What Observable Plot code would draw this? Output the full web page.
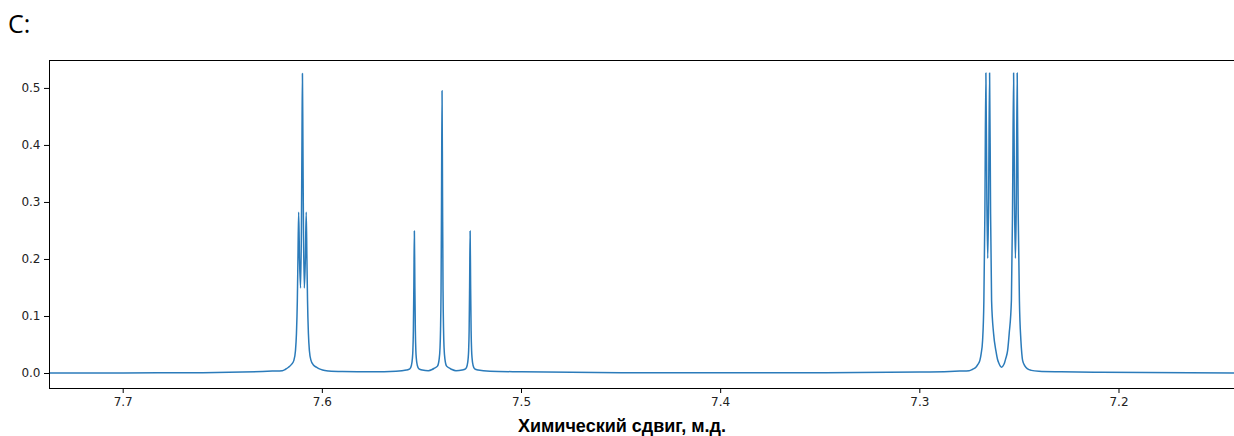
<!DOCTYPE html>
<html>
<head>
<meta charset="utf-8">
<script src="https://cdn.jsdelivr.net/npm/d3@7"></script>
<script src="https://cdn.jsdelivr.net/npm/@observablehq/plot@0.6"></script>
<style>
  html, body { margin: 0; padding: 0; background: #fff; overflow: hidden; }
  #title { height: 44px; box-sizing: border-box; padding: 6px 0 0 8px; font-family: "Open Sans", sans-serif; font-size: 25px; color: #000; line-height: 34px; }
  #chart svg { display: block; }
  #xlabel { width: 1234px; box-sizing: border-box; padding-left: 10px; text-align: center; font-family: "Liberation Sans", Arial, sans-serif; font-weight: bold; font-size: 18px; color: #000; line-height: 20px; }
</style>
</head>
<body>
<div id="title">C:</div>
<div id="chart"></div>
<div id="xlabel">Химический сдвиг, м.д.</div>
<script>
// Chemical shift (ppm) and intensity
const shiftPpm = [
  7.737, 7.700, 7.660, 7.6402, 7.6301, 7.6251, 7.6201, 7.6185, 7.6170, 7.6155,
  7.6143, 7.6135, 7.6130,
  7.61256, 7.61226, 7.6119, 7.61146, 7.61095, 7.6105, 7.61025, 7.6100, 7.60975, 7.6095,
  7.60905, 7.60854, 7.6081, 7.60774, 7.60744, 7.6070, 7.6065, 7.6057, 7.6045, 7.6030,
  7.6015, 7.5999, 7.5969, 7.5899, 7.575, 7.563,
  7.5578, 7.5561, 7.5553, 7.5548, 7.55455, 7.5543, 7.55405, 7.5538, 7.55355, 7.5533,
  7.55305, 7.5528, 7.5523, 7.5515, 7.5498, 7.5468,
  7.5449, 7.5439, 7.5422, 7.5414, 7.5409, 7.54065, 7.5404, 7.54015, 7.5399, 7.53965,
  7.5394, 7.53915, 7.5389, 7.5384, 7.5376, 7.5359, 7.5349, 7.5329,
  7.5298, 7.5281, 7.5273, 7.5268, 7.52655, 7.5263, 7.52605, 7.5258, 7.52555, 7.5253,
  7.52505, 7.5248, 7.5243, 7.5235, 7.5218, 7.5158, 7.500, 7.450, 7.400, 7.350,
  7.300, 7.285, 7.2800,
  7.27523, 7.2735, 7.27186, 7.27085, 7.26985, 7.2692, 7.26849, 7.26784, 7.26734, 7.26683,
  7.26633, 7.2659, 7.26548, 7.26497, 7.26447, 7.26397, 7.26296, 7.26181, 7.2610, 7.2603,
  7.2596, 7.25894, 7.2583, 7.25754, 7.2568, 7.25593, 7.25513,
  7.25402, 7.25347, 7.25291, 7.25246, 7.2520, 7.25156, 7.25111, 7.25060, 7.2500, 7.24925,
  7.2488, 7.2484, 7.2472, 7.24588, 7.2440, 7.2402, 7.2291, 7.2090, 7.142
];
const intensity = [
  0.0008, 0.0010, 0.0015, 0.0025, 0.0035, 0.0042, 0.005, 0.0075, 0.011, 0.016,
  0.023, 0.040, 0.070,
  0.128, 0.20, 0.283, 0.20, 0.150, 0.26, 0.40, 0.526, 0.40, 0.26,
  0.150, 0.20, 0.283, 0.20, 0.128, 0.070, 0.040, 0.023, 0.015, 0.011,
  0.008, 0.006, 0.0045, 0.0035, 0.003, 0.004,
  0.006, 0.008, 0.014, 0.026, 0.040, 0.075, 0.155, 0.250, 0.155, 0.075,
  0.040, 0.026, 0.014, 0.008, 0.006, 0.005,
  0.007, 0.009, 0.013, 0.024, 0.046, 0.078, 0.145, 0.31, 0.496, 0.31,
  0.145, 0.078, 0.046, 0.024, 0.013, 0.009, 0.007, 0.005,
  0.006, 0.008, 0.014, 0.026, 0.040, 0.075, 0.155, 0.250, 0.155, 0.075,
  0.040, 0.026, 0.014, 0.008, 0.006, 0.004, 0.003, 0.0015, 0.0012, 0.0015,
  0.0025, 0.0035, 0.0042,
  0.005, 0.0075, 0.011, 0.016, 0.023, 0.035, 0.058, 0.128, 0.28, 0.527,
  0.30, 0.202, 0.30, 0.527, 0.28, 0.128, 0.070, 0.040, 0.025, 0.018,
  0.013, 0.011, 0.013, 0.018, 0.027, 0.040, 0.070,
  0.128, 0.28, 0.527, 0.30, 0.202, 0.30, 0.527, 0.28, 0.128, 0.058,
  0.035, 0.023, 0.013, 0.008, 0.0055, 0.004, 0.003, 0.002, 0.001
];
const xTicks = [7.7, 7.6, 7.5, 7.4, 7.3, 7.2];
const yTicks = [0.0, 0.1, 0.2, 0.3, 0.4, 0.5];
const xDomain = [7.737, 7.142];
const yDomain = [-0.0263, 0.549];

const spectrum = shiftPpm.map((x, i) => ({x, y: intensity[i]}));

const chart = Plot.plot({
  width: 1234,
  height: 372,
  marginTop: 16,
  marginBottom: 28,
  marginLeft: 49,
  marginRight: 0,
  style: {fontFamily: "DejaVu Sans", fontSize: "12px", color: "#222", background: "#fff"},
  x: {domain: xDomain, ticks: xTicks, tickFormat: d3.format(".1f"), label: null, tickSize: 5, tickPadding: 4},
  y: {domain: yDomain, ticks: yTicks, tickFormat: d3.format(".1f"), label: null, tickSize: 5, tickPadding: 4},
  marks: [
    Plot.line(spectrum, {x: "x", y: "y", stroke: "#2b7bba", strokeWidth: 1.5, curve: "monotone-x"}),
    Plot.ruleY([yDomain[1]], {stroke: "#000", strokeWidth: 1}),
    Plot.ruleY([yDomain[0]], {stroke: "#000", strokeWidth: 1}),
    Plot.ruleX([xDomain[0]], {stroke: "#000", strokeWidth: 1}),
    Plot.axisX({ticks: xTicks, tickFormat: d3.format(".1f"), label: null, tickSize: 5, tickPadding: 4, stroke: "#000"}),
    Plot.axisY({ticks: yTicks, tickFormat: d3.format(".1f"), label: null, tickSize: 5, tickPadding: 4, stroke: "#000"})
  ]
});
document.getElementById("chart").appendChild(chart);
</script>
</body>
</html>
